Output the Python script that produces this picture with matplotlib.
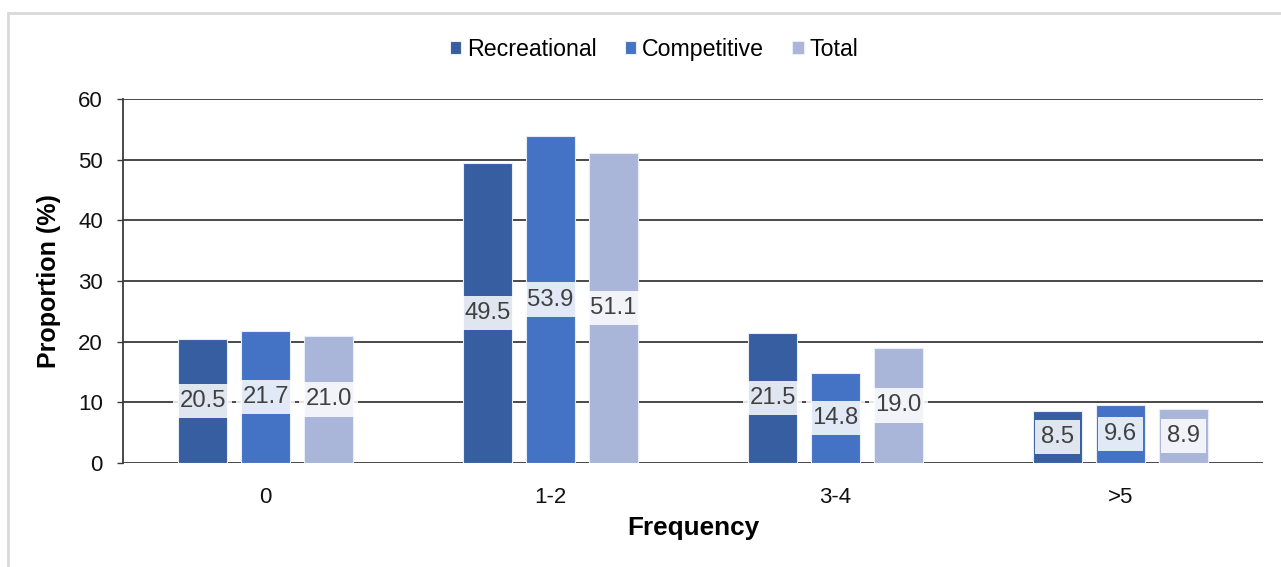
import matplotlib
matplotlib.use("Agg")
import matplotlib.pyplot as plt
import numpy as np
from matplotlib.patches import Rectangle

plt.rcParams['font.family'] = ['Liberation Sans', 'DejaVu Sans']

categories = ["0", "1-2", "3-4", ">5"]
series_names = ["Recreational", "Competitive", "Total"]
recreational = [20.5, 49.5, 21.5, 8.5]
competitive = [21.7, 53.9, 14.8, 9.6]
total = [21.0, 51.1, 19.0, 8.9]
yticks = [0, 10, 20, 30, 40, 50, 60]

colors = ["#365EA0", "#4472C4", "#A9B6DA"]
grid_color = "#3A3A3A"
label_color = "#404040"

fig = plt.figure(figsize=(12.81, 5.67), dpi=100)
fig.patch.set_facecolor("white")

# light frame around the chart area
fig.add_artist(Rectangle((8 / 1281, -0.05), 1.2, 1 - 13 / 567 + 0.05,
                         transform=fig.transFigure, fill=False,
                         edgecolor="#D9D9D9", linewidth=2))

ax = fig.add_axes([123 / 1281, 104 / 567, 1140 / 1281, 364 / 567])

x = np.arange(len(categories))
width = 0.175
pitch = 0.221
data = [recreational, competitive, total]

ax.set_ylim(0, 60)
ax.set_xlim(-0.5, len(categories) - 0.5)
ax.set_yticks(yticks)
ax.yaxis.grid(True, color=grid_color, linewidth=1.3, zorder=0)
ax.set_axisbelow(True)

handles = []
for i, (vals, name, col) in enumerate(zip(data, series_names, colors)):
    offs = x + (i - 1) * pitch
    bars = ax.bar(offs, vals, width, color=col, edgecolor="#E8ECF6",
                  linewidth=0.8, label=name, zorder=2)
    handles.append(bars)
    for xi, v in zip(offs, vals):
        ax.text(xi, v / 2, f"{v:.1f}", ha="center", va="center",
                fontsize=17.2, color=label_color, zorder=4,
                bbox=dict(boxstyle="square,pad=0.26", facecolor="white",
                          edgecolor="none", alpha=0.85))

for s in ["top", "right", "bottom"]:
    ax.spines[s].set_visible(False)
ax.spines["left"].set_color(grid_color)
ax.spines["left"].set_linewidth(1.3)

ax.set_xticks(x)
ax.set_xticklabels(categories)
ax.tick_params(axis="x", length=0, pad=17, labelsize=16, labelcolor="#111111")
ax.tick_params(axis="y", length=4.5, width=1.0, color=grid_color, pad=10,
               labelsize=16, labelcolor="#111111")

ax.set_xlabel("Frequency", fontsize=18.8, fontweight="bold", labelpad=6)
ax.set_ylabel("Proportion (%)", fontsize=18, fontweight="bold", labelpad=12)

fig.legend(handles=handles, labels=series_names, loc="center",
           bbox_to_anchor=(654 / 1281, 1 - 49 / 567), ncol=3, frameon=False,
           fontsize=16.7, handlelength=0.5, handleheight=0.5,
           handletextpad=0.25, columnspacing=1.2)

fig.savefig("out.png", dpi=100, facecolor="white")
